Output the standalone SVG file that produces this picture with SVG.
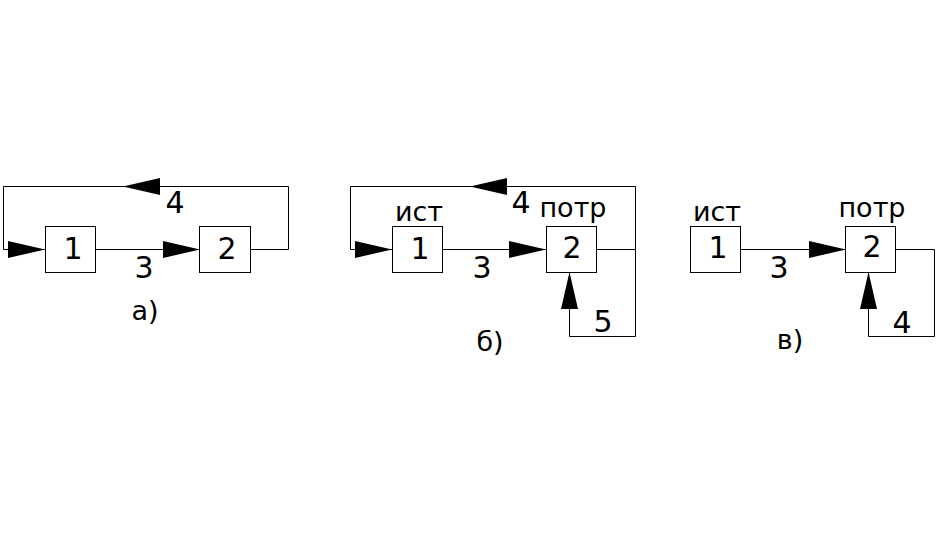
<svg xmlns="http://www.w3.org/2000/svg" width="936" height="534" viewBox="0 0 936 534">
<style>
.box{fill:#fff;stroke:#000;stroke-width:1}
.ln{fill:none;stroke:#000;stroke-width:1}
.ah{fill:#000;stroke:none}
text{font-family:"DejaVu Sans",sans-serif;font-size:30px;fill:#000;text-anchor:middle}
text.w{font-size:27px}
</style>
<defs>
<path id="ar" d="M0 0 L-37 -8.5 L-37 8.5 Z"/>
</defs>
<rect width="936" height="534" fill="#fff"/>
<g id="connectors">
<path class="ln" d="M95 249.5 H200"/>
<path class="ln" d="M250 249.5 H288.5 V186.5 H3.5 V249.5 H45"/>
<use href="#ar" class="ah" transform="translate(200,249.5)"/>
<use href="#ar" class="ah" transform="translate(123,186.5) rotate(180)"/>
<use href="#ar" class="ah" transform="translate(45,249.5)"/>
<path class="ln" d="M442 249.5 H546"/>
<path class="ln" d="M596 249.5 H635.5 V186.5 H350.5 V249.5 H392"/>
<path class="ln" d="M635.5 249.5 V336.5 H569.5 V272"/>
<use href="#ar" class="ah" transform="translate(546,249.5)"/>
<use href="#ar" class="ah" transform="translate(470,186.5) rotate(180)"/>
<use href="#ar" class="ah" transform="translate(392,249.5)"/>
<use href="#ar" class="ah" transform="translate(569.5,272) rotate(-90)"/>
<path class="ln" d="M741 249.5 H846"/>
<path class="ln" d="M896 249.5 H934.5 V336.5 H868.5 V272"/>
<use href="#ar" class="ah" transform="translate(846,249.5)"/>
<use href="#ar" class="ah" transform="translate(868.5,272) rotate(-90)"/>
</g>
<g id="a-node1"><rect class="box" x="45.5" y="226.5" width="50" height="46"/><text x="73" y="259">1</text></g>
<g id="a-node2"><rect class="box" x="199.5" y="226.5" width="51" height="46"/><text x="227" y="259">2</text></g>
<g id="b-node1"><rect class="box" x="392.5" y="226.5" width="50" height="46"/><text x="420" y="259">1</text><text class="w" x="419" y="221">ист</text></g>
<g id="b-node2"><rect class="box" x="546.5" y="226.5" width="50" height="46"/><text x="572" y="258">2</text><text class="w" x="573" y="217">потр</text></g>
<g id="v-node1"><rect class="box" x="690.5" y="226.5" width="50" height="46"/><text x="718" y="258">1</text><text class="w" x="717" y="221">ист</text></g>
<g id="v-node2"><rect class="box" x="845.5" y="226.5" width="50" height="46"/><text x="872" y="257">2</text><text class="w" x="872" y="217">потр</text></g>
<g id="labels">
<text x="175" y="213">4</text>
<text x="144" y="278">3</text>
<text class="w" x="145" y="320">а)</text>
<text x="521" y="213">4</text>
<text x="482" y="278">3</text>
<text x="603" y="332">5</text>
<text class="w" x="490" y="351">б)</text>
<text x="779" y="278">3</text>
<text x="902" y="333">4</text>
<text class="w" x="790" y="349">в)</text>
</g>
</svg>
